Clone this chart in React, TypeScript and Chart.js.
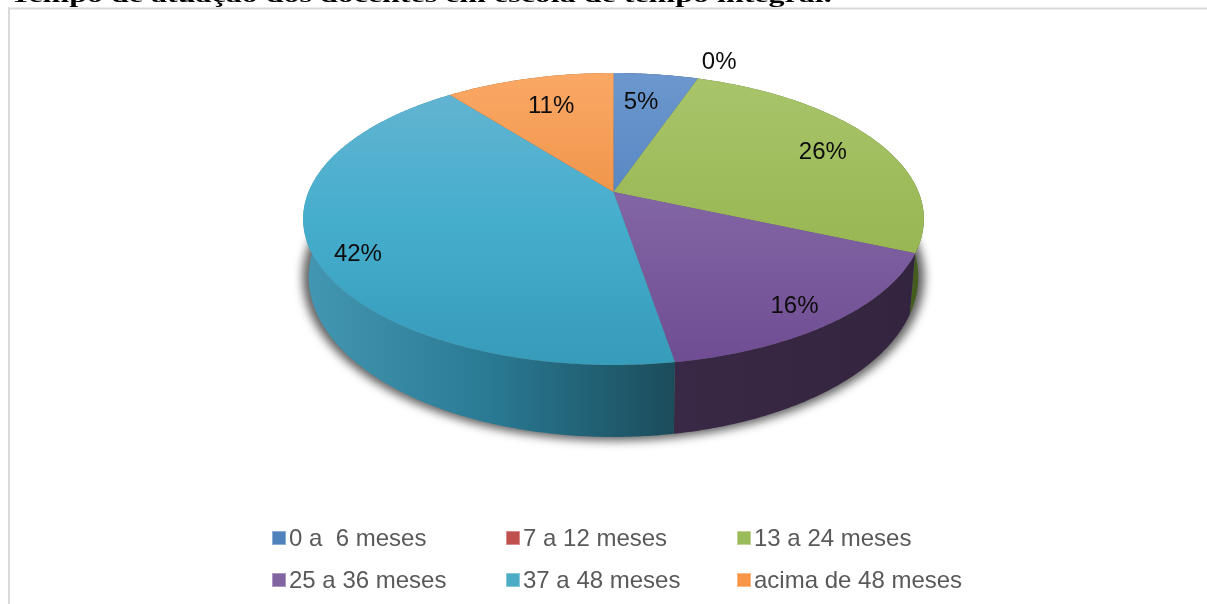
import React, { useEffect, useRef } from "react";
import { Chart, registerables } from "chart.js";

Chart.register(...registerables);

const TITLE = "Tempo de atuação dos docentes em escola de tempo integral.";
const categories = ["0 a  6 meses", "7 a 12 meses", "13 a 24 meses", "25 a 36 meses", "37 a 48 meses", "acima de 48 meses"];
// Number of teachers in each band; the printed percentages are these, rounded.
const teachers = [1, 0, 5, 3, 8, 2];
const legendColors = ["#4F81BD", "#C0504D", "#9BBB59", "#8064A2", "#4BACC6", "#F79646"];

// Top-face gradient, far edge to near edge of the disc.
const faceShades = [
  ["#6C97CE", "#3F72B4"],
  ["#D06A66", "#B04440"],
  ["#A9C56B", "#8EAD44"],
  ["#9078B0", "#6F4C93"],
  ["#66B5D2", "#46AECD", "#379BBA"],
  ["#FBA865", "#E07C28"],
];
// Side-wall gradient, left to right across each slice.
const wallShades = [
  ["#2A4A72", "#2A4A72"],
  ["#6E2D2B", "#6E2D2B"],
  ["#4F6B22", "#445C1E"],
  ["#3A2946", "#33243F"],
  ["#4497B2", "#2A7A94", "#1B4C5B"],
  ["#8F5420", "#8F5420"],
];
// Radial distance and angular nudge (degrees) of each percentage label.
const labelRadius = [0.74, 1.197, 0.788, 0.869, 0.873, 0.733];
const labelAngleShift = [-1.5, 1.5, 0.7, 1.4, -3.6, 0.6];

type Disc = { cx: number; cy: number; a: number; b: number; k: number };
const FACE: Disc = { cx: 613.5, cy: 192, a: 305, b: 141, k: 0.185 };
const BASE: Disc = { cx: 613.5, cy: 247.4, a: 299.5, b: 154.5, k: 0.185 };

// Perspective projection of a point on the unit disc.
function project(d: Disc, angle: number, r = 1): [number, number] {
  const u = Math.cos(angle) * r;
  const v = Math.sin(angle) * r;
  const w = 1 - d.k * v;
  return [d.cx + (d.a * u) / w, d.cy + (d.b * v) / w];
}

function arcPoints(d: Disc, start: number, end: number): [number, number][] {
  const n = Math.max(2, Math.ceil(Math.abs(end - start) / 0.01));
  const pts: [number, number][] = [];
  for (let i = 0; i <= n; i++) pts.push(project(d, start + ((end - start) * i) / n));
  return pts;
}

const tiltedPie = {
  id: "tiltedPie",
  beforeDatasetsDraw(chart: any) {
    const ctx: CanvasRenderingContext2D = chart.ctx;
    const arcs = chart.getDatasetMeta(0).data;
    const total = teachers.reduce((s, n) => s + n, 0);
    ctx.save();

    // Page heading (wide-set bold serif), frame
    ctx.save();
    ctx.fillStyle = "#000";
    ctx.font = "bold 21.33px 'Liberation Serif'";
    ctx.textAlign = "left";
    ctx.textBaseline = "alphabetic";
    ctx.scale(1.5, 1);
    ctx.fillText(TITLE, 10 / 1.5, 2);
    ctx.restore();
    ctx.fillStyle = "#D9D9D9";
    ctx.fillRect(8, 7.5, 1199, 2);
    ctx.fillRect(8, 7.5, 2, 596.5);

    // Cast shadow under the base: only the blur is painted, the shape sits off-canvas
    ctx.save();
    const shift = 3000;
    ctx.shadowColor = "rgba(0,0,0,0.62)";
    ctx.shadowBlur = 10;
    ctx.shadowOffsetX = shift;
    ctx.fillStyle = "#000";
    const halo: Disc = { ...BASE, a: BASE.a + 6, b: BASE.b + 3 };
    ctx.beginPath();
    arcPoints(halo, 0, Math.PI * 2).forEach(([x, y]) => ctx.lineTo(x - shift, y));
    ctx.closePath();
    ctx.fill();
    ctx.restore();

    // Side walls
    arcs.forEach((arc: any, i: number) => {
      if (arc.endAngle - arc.startAngle <= 0) return;
      const top = arcPoints(FACE, arc.startAngle, arc.endAngle);
      const bottom = arcPoints(BASE, arc.endAngle, arc.startAngle);
      const all = top.concat(bottom);
      const xs = all.map((p) => p[0]);
      const g = ctx.createLinearGradient(Math.min(...xs), 0, Math.max(...xs), 0);
      wallShades[i].forEach((c, j, list) => g.addColorStop(j / (list.length - 1), c));
      ctx.fillStyle = g;
      ctx.beginPath();
      all.forEach(([x, y]) => ctx.lineTo(x, y));
      ctx.closePath();
      ctx.fill();
    });

    // Top faces
    arcs.forEach((arc: any, i: number) => {
      if (arc.endAngle - arc.startAngle <= 0) return;
      const g = ctx.createLinearGradient(0, 73, 0, 365);
      faceShades[i].forEach((c, j, list) => g.addColorStop(j / (list.length - 1), c));
      ctx.fillStyle = g;
      ctx.beginPath();
      ctx.moveTo(FACE.cx, FACE.cy);
      arcPoints(FACE, arc.startAngle, arc.endAngle).forEach(([x, y]) => ctx.lineTo(x, y));
      ctx.closePath();
      ctx.fill();
    });

    // Percentage labels
    ctx.fillStyle = "#0D0D0D";
    ctx.font = "24px 'Liberation Sans'";
    ctx.textAlign = "center";
    ctx.textBaseline = "middle";
    arcs.forEach((arc: any, i: number) => {
      const mid = (arc.startAngle + arc.endAngle) / 2 + (labelAngleShift[i] * Math.PI) / 180;
      const [x, y] = project(FACE, mid, labelRadius[i]);
      ctx.fillText(`${Math.round((teachers[i] / total) * 100)}%`, x, y + 1);
    });

    // Legend in three columns
    const columnX = [272, 506, 737];
    const rowY = [538, 580];
    ctx.font = "24px 'Liberation Sans'";
    ctx.textAlign = "left";
    categories.forEach((name, i) => {
      const x = columnX[i % 3];
      const y = rowY[Math.floor(i / 3)];
      ctx.fillStyle = legendColors[i];
      ctx.fillRect(x, y - 7, 14, 14);
      ctx.strokeStyle = "rgba(255,255,255,0.35)";
      ctx.strokeRect(x + 0.5, y - 6.5, 13, 13);
      ctx.fillStyle = "#595959";
      ctx.fillText(name, x + 17, y + 1);
    });

    ctx.restore();
    return false;
  },
};

export default function App() {
  const ref = useRef<HTMLCanvasElement>(null);
  useEffect(() => {
    const chart = new Chart(ref.current!, {
      type: "pie",
      data: {
        labels: categories,
        datasets: [{ data: teachers, backgroundColor: legendColors, borderWidth: 0 }],
      },
      options: {
        animation: false,
        responsive: false,
        plugins: { legend: { display: false }, tooltip: { enabled: false } },
      },
      plugins: [tiltedPie],
    });
    return () => chart.destroy();
  }, []);
  return (
    <canvas
      ref={ref}
      width={1207}
      height={604}
      style={{ position: "absolute", left: 0, top: 0, width: 1207, height: 604, background: "#fff" }}
    />
  );
}
